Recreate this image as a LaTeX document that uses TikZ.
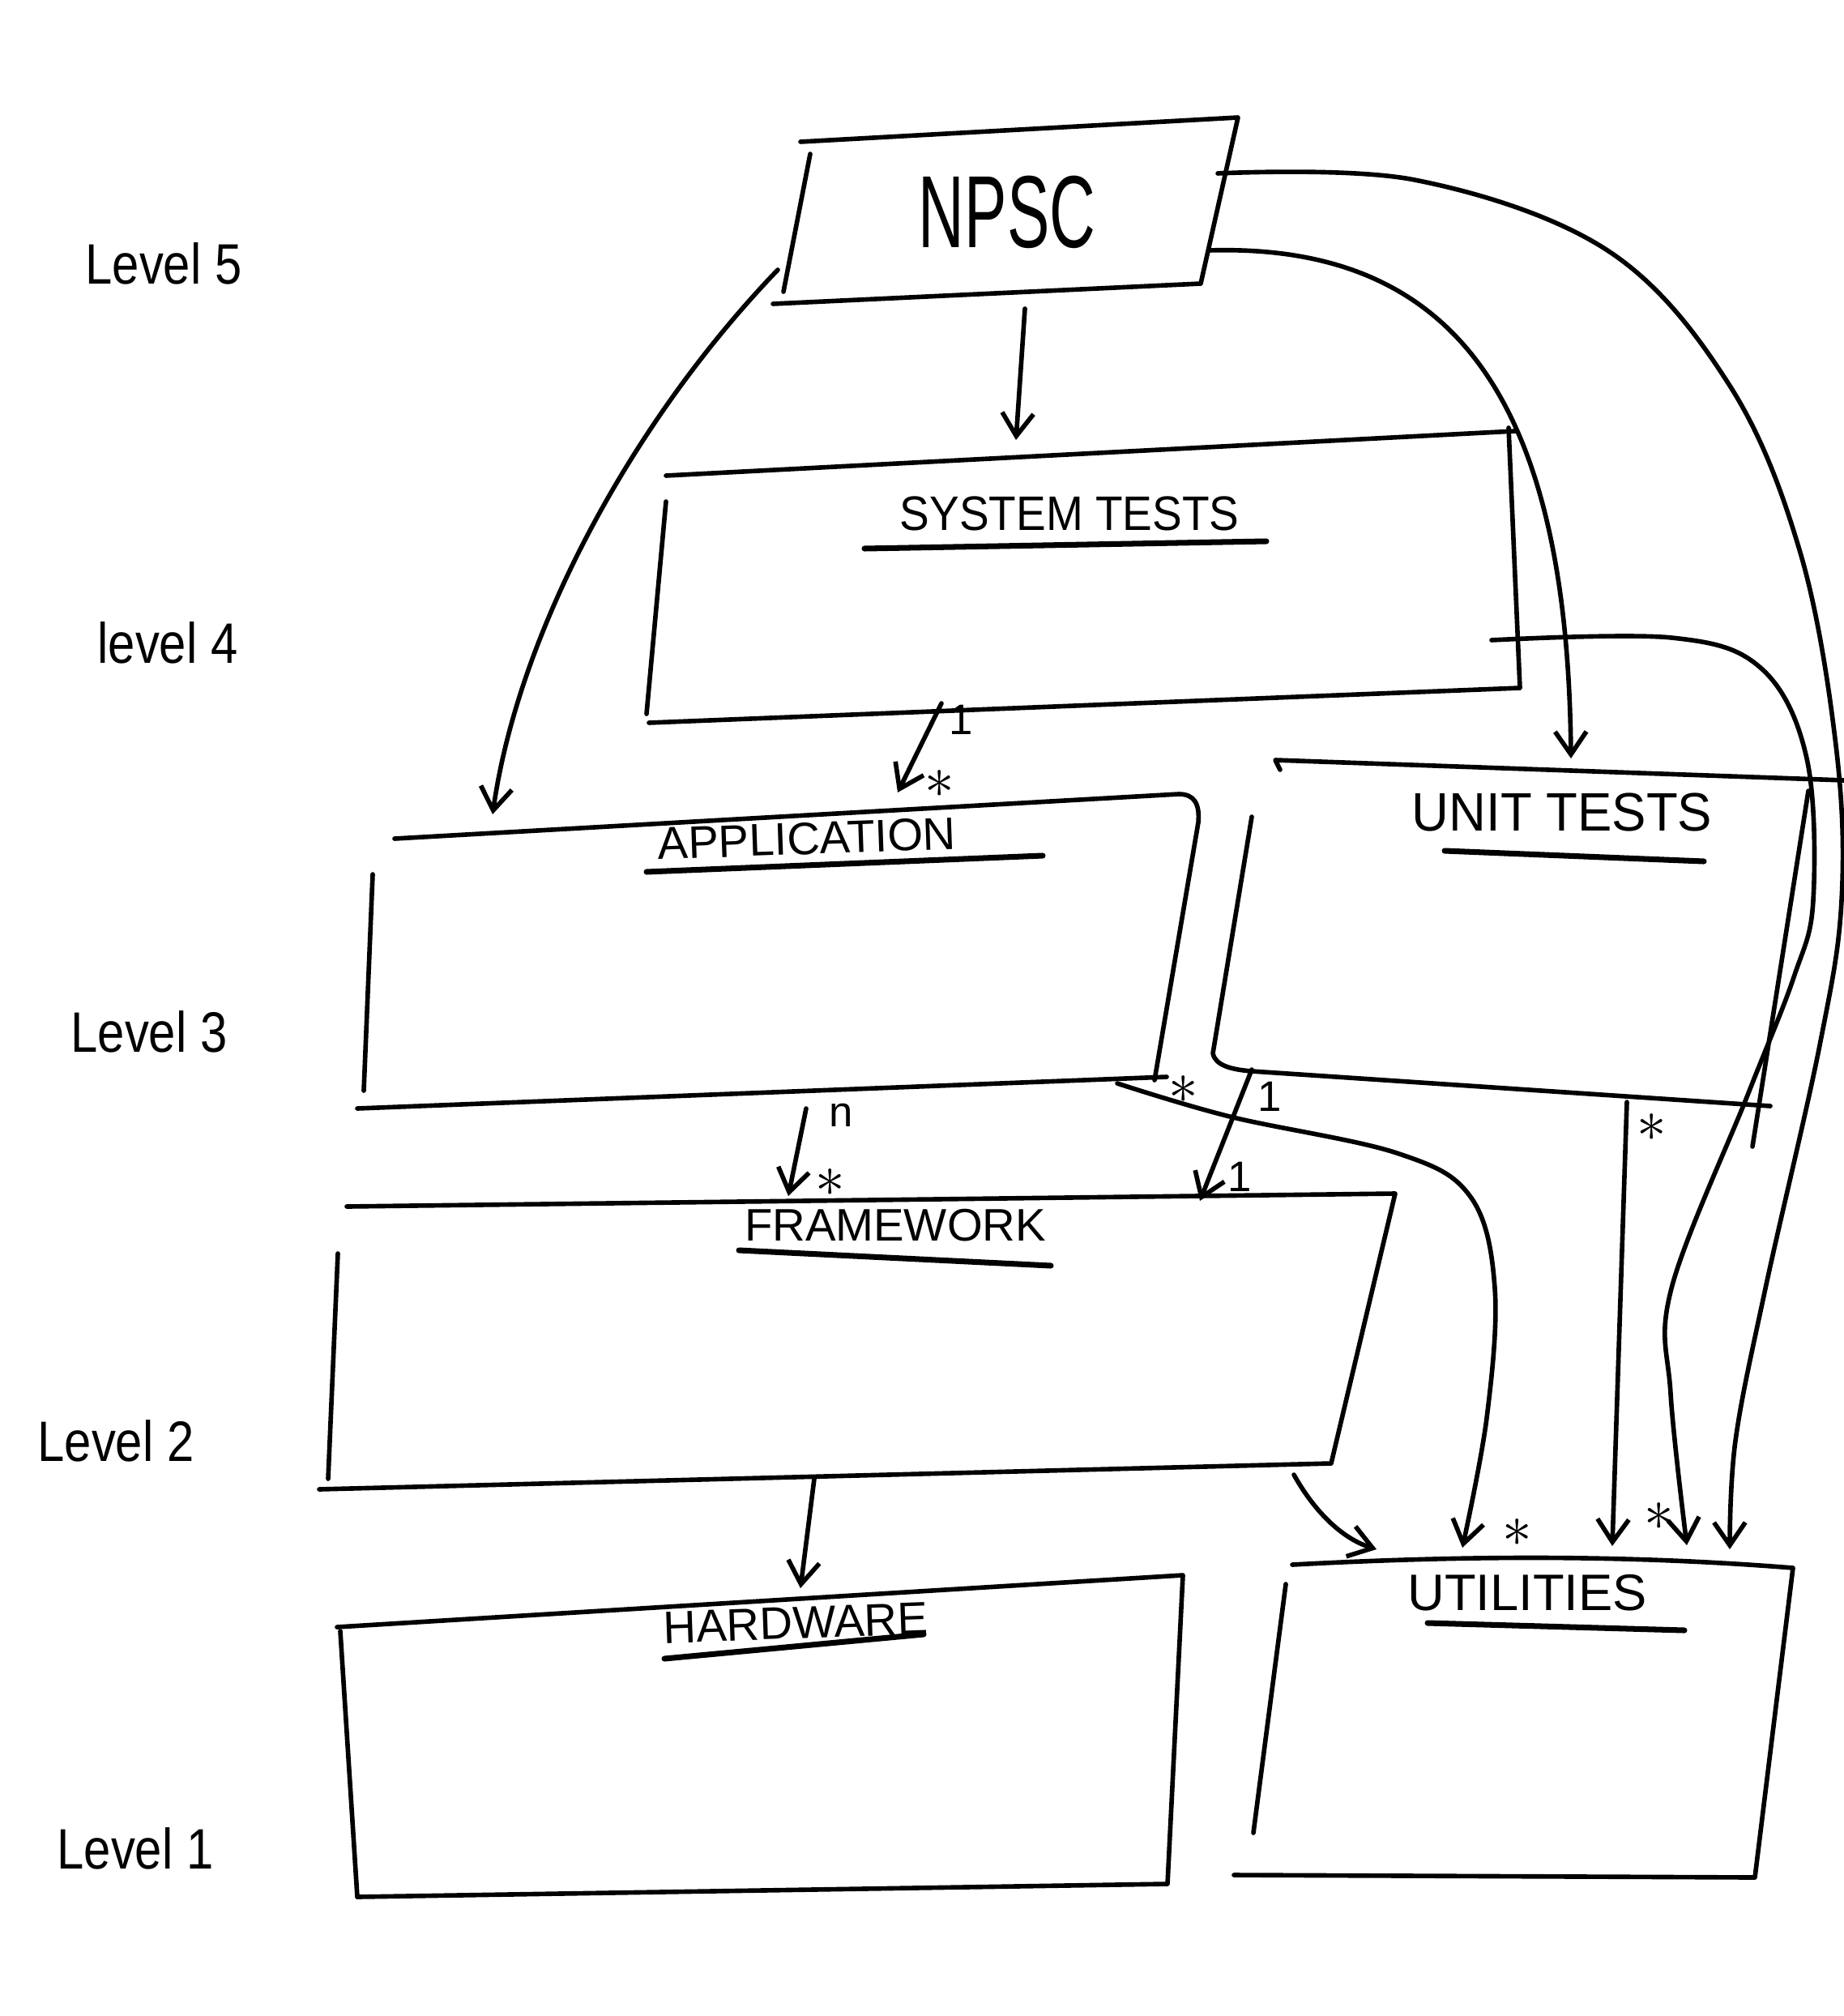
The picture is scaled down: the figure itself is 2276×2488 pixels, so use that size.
\documentclass[tikz,border=0pt]{standalone}
\usepackage{fontspec}
\setmainfont{Liberation Sans}
\usetikzlibrary{arrows.meta}
\begin{document}
\begin{tikzpicture}[x=0.01cm,y=-0.01cm,
  pen/.style={line width=1.6pt,line cap=round,line join=round},
  conn/.style={pen,-{Straight Barb[length=8pt,width=11pt]}},
  uline/.style={line width=2pt,line cap=round},
  boxlabel/.style={font=\fontsize{17}{20}\selectfont,inner sep=0pt},
  lvl/.style={font=\fontsize{20}{24}\selectfont,xscale=0.85,inner sep=0pt},
  mult/.style={font=\fontsize{15}{17}\selectfont,inner sep=0pt},
  star/.style={font=\fontsize{22}{24}\selectfont,inner sep=0pt}]
\useasboundingbox (0,0) rectangle (2276,2488);

% level labels
\node[lvl] (l5) at (202,325) {Level 5};
\node[lvl] (l4) at (207,793) {level 4};
\node[lvl] (l3) at (184,1273) {Level 3};
\node[lvl] (l2) at (143,1778) {Level 2};
\node[lvl] (l1) at (167,2281) {Level 1};

% NPSC
\draw[pen] (988,175) -- (1528,145) -- (1482,350) -- (954,375);
\draw[pen] (1000,190) -- (967,360);
\node[font=\fontsize{36}{40}\selectfont,xscale=0.62,inner sep=0pt] (npsc) at (1243,262) {NPSC};

% System tests
\draw[pen] (822,587) -- (1870,532);
\draw[pen] (1862,528) -- (1876,849) -- (801,892);
\draw[pen] (822,619) -- (798,881);
\node[boxlabel,xscale=0.92] (st) at (1320,634) {SYSTEM TESTS};
\draw[uline] (1067,677) -- (1563,668);

% Application
\draw[pen] (487,1035) -- (1455,980) .. controls (1474,980) and (1481,992) .. (1479,1015) -- (1425,1333);
\draw[pen] (441,1368) -- (1440,1329);
\draw[pen] (460,1079) -- (449,1346);
\node[boxlabel,font=\fontsize{16}{19}\selectfont,rotate=2] (app) at (996,1035) {APPLICATION};
\draw[uline] (798,1076) -- (1287,1056);

% Unit tests
\draw[pen] (1580,950) -- (1574,938) -- (2276,963);
\draw[pen] (1545,1008) -- (1497,1300) .. controls (1500,1315) and (1520,1320) .. (1545,1322) -- (2185,1365);
\draw[pen] (2232,976) -- (2163,1415);
\node[boxlabel,font=\fontsize{19}{22}\selectfont,xscale=0.95] (ut) at (1928,1002) {UNIT TESTS};
\draw[uline] (1783,1050) -- (2103,1063);

% Framework
\draw[pen] (428,1489) -- (1722,1473) -- (1643,1806) -- (394,1838);
\draw[pen] (417,1547) -- (405,1825);
\node[boxlabel,font=\fontsize{16}{19}\selectfont] (fw) at (1105,1512) {FRAMEWORK};
\draw[uline] (912,1543) -- (1297,1562);

% Hardware
\draw[pen] (416,2008) -- (1460,1944) -- (1441,2325) -- (441,2341);
\draw[pen] (420,2013) -- (441,2341);
\node[boxlabel,font=\fontsize{16}{19}\selectfont,rotate=2] (hw) at (982,2003) {HARDWARE};
\draw[uline] (820,2047) -- (1140,2017);

% Utilities
\draw[pen] (1595,1931) .. controls (1800,1920) and (2000,1918) .. (2213,1935) -- (2166,2317) -- (1523,2314);
\draw[pen] (1587,1955) -- (1547,2262);
\node[boxlabel,font=\fontsize{18}{21}\selectfont] (util) at (1885,1966) {UTILITIES};
\draw[uline] (1762,2003) -- (2079,2012);

% connector end points
\coordinate (npsc-b) at (1265,381);  \coordinate (st-t) at (1254,543);
\coordinate (npsc-l) at (960,333);   \coordinate (app-t) at (608,1005);
\coordinate (npsc-r2) at (1492,309); \coordinate (ut-t) at (1939,936);
\coordinate (npsc-r1) at (1503,214); \coordinate (util-t5) at (2135,1912);
\coordinate (st-r) at (1841,790);    \coordinate (util-t4) at (2082,1907);
\coordinate (st-b) at (1162,868);    \coordinate (app-t2) at (1108,978);
\coordinate (app-b) at (995,1368);   \coordinate (fw-t) at (973,1476);
\coordinate (ut-b) at (1545,1320);   \coordinate (fw-t2) at (1481,1482);
\coordinate (app-br) at (1379,1337); \coordinate (util-t2) at (1805,1910);
\coordinate (ut-b2) at (2008,1360);  \coordinate (util-t3) at (1990,1908);
\coordinate (fw-br) at (1597,1820);  \coordinate (util-t1) at (1699,1912);
\coordinate (fw-b) at (1005,1825);   \coordinate (hw-t) at (988,1960);

% connectors
\draw[conn] (npsc-b) -- (st-t);
\draw[conn] (npsc-l) .. controls (780,520) and (640,780) .. (app-t);
\draw[conn] (npsc-r2) .. controls (1800,300) and (1935,500) .. (ut-t);
\draw[conn] plot[smooth,tension=0.6] coordinates {(npsc-r1) (1746,222) (1984,309) (2135,476) (2222,682) (2266,920) (2273,1111) (2246,1290) (2179,1590) (2142,1778) (util-t5)};
\draw[conn] plot[smooth,tension=0.6] coordinates {(st-r) (2063,787) (2174,825) (2230,936) (2238,1111) (2214,1206) (2158,1349) (2063,1590) (2062,1720) (util-t4)};
\draw[conn] (st-b) -- (app-t2);
\draw[conn] (app-b) -- (fw-t);
\draw[conn] (ut-b) -- (fw-t2);
\draw[conn] plot[smooth,tension=0.6] coordinates {(app-br) (1518,1378) (1724,1423) (1815,1477) (1845,1590) (1835,1750) (util-t2)};
\draw[conn] (ut-b2) -- (util-t3);
\draw[conn] (fw-br) .. controls (1625,1870) and (1660,1900) .. (util-t1);
\draw[conn] (fw-b) -- (hw-t);

% multiplicities
\node[mult] (m1) at (1186,888) {1};
\node[star] (m2) at (1160,968) {$\ast$};
\node[mult] (m3) at (1038,1376) {n};
\node[star] (m4) at (1025,1460) {$\ast$};
\node[star] (m5) at (1461,1345) {$\ast$};
\node[mult] (m6) at (1567,1353) {1};
\node[mult] (m7) at (1530,1452) {1};
\node[star] (m8) at (2039,1392) {$\ast$};
\node[star] (m9) at (1873,1892) {$\ast$};
\node[star] (m10) at (2048,1872) {$\ast$};
\end{tikzpicture}
\end{document}
